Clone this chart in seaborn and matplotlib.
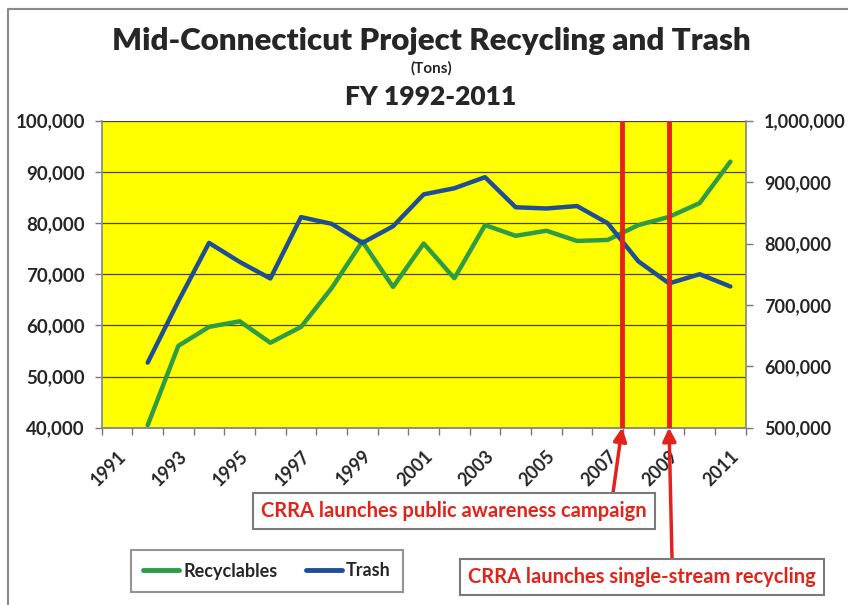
import numpy as np
import pandas as pd
import matplotlib.pyplot as plt
import seaborn as sns
from matplotlib.lines import Line2D
from matplotlib.ticker import FuncFormatter, MultipleLocator

# values (tons)
years = list(range(1992, 2012))
recyclables = [40500, 56000, 59700, 60800, 56600, 59700, 67300, 76400, 67500, 76000,
               69200, 79600, 77500, 78500, 76500, 76700, 79600, 81200, 83900, 92000]
trash = [606000, 706000, 801000, 770000, 743000, 843000, 832000, 801000, 828000, 880000,
         890000, 908000, 859000, 857000, 861000, 833000, 771000, 735000, 750000, 730000]

year_ticks = list(range(1991, 2012, 2))
event_years = [2007.47, 2009.0]
event_labels = ['CRRA launches public awareness campaign',
                'CRRA launches single-stream recycling']

df = pd.DataFrame({'Year': years, 'Recyclables': recyclables, 'Trash': trash})

GREEN = '#2e9b46'
BLUE = '#1f4e96'
RED = '#e3231a'
W, H = 848, 605

sns.set_theme(style='white')
plt.rcParams['font.family'] = ['Lato', 'DejaVu Sans']

fig = plt.figure(figsize=(W / 100, H / 100), dpi=100)
ax = fig.add_axes([101.7 / W, 1 - 427.7 / H, 644 / W, 307 / H])
ax.set_facecolor('#ffff00')

sns.lineplot(data=df, x='Year', y='Recyclables', ax=ax, color=GREEN, lw=3.2, zorder=3)
ax2 = ax.twinx()
sns.lineplot(data=df, x='Year', y='Trash', ax=ax2, color=BLUE, lw=3.2, zorder=3)

ax.set_xlim(1990.5, 2011.5)
ax.set_ylim(40000, 100000)
ax2.set_ylim(500000, 1000000)
ax.set_xlabel('')
ax.set_ylabel('')
ax2.set_ylabel('')

comma = FuncFormatter(lambda v, p: f'{int(v):,}')
ax.yaxis.set_major_locator(MultipleLocator(10000))
ax.yaxis.set_major_formatter(comma)
ax2.yaxis.set_major_locator(MultipleLocator(100000))
ax2.yaxis.set_major_formatter(comma)

ax.set_xticks(year_ticks)
ax.set_xticklabels([str(y) for y in year_ticks], rotation=45, ha='right',
                   rotation_mode='anchor', fontweight='bold', fontsize=13)
ax.set_xticks(np.arange(1990.5, 2012, 1), minor=True)
ax.tick_params(axis='x', which='major', length=0, pad=14)
ax.tick_params(axis='x', which='minor', length=5, width=1, color='#777777', direction='out', bottom=True)
ax.tick_params(axis='y', length=5, width=1, color='#777777', direction='out', left=True,
               labelsize=13.5, pad=7)
ax2.tick_params(axis='y', length=5, width=1, color='#777777', direction='out', right=True,
                labelsize=13, pad=8)
for lab in ax.get_yticklabels() + ax2.get_yticklabels():
    lab.set_fontweight('bold')

ax.yaxis.grid(True, color='#4a4220', lw=0.9)
ax.set_axisbelow(True)
for a in (ax, ax2):
    for s in a.spines.values():
        s.set_visible(False)
    a.spines['left'].set_visible(True)
    a.spines['bottom'].set_visible(True)
    a.spines['left'].set_color('#8a8a8a')
    a.spines['bottom'].set_color('#8a8a8a')
ax2.spines['right'].set_visible(True)
ax2.spines['right'].set_color('#8a8a8a')
ax2.spines['left'].set_visible(False)

# event markers
for ex in event_years:
    ax2.axvline(ex, color=RED, lw=3.5, zorder=5)

box_centers = [(454, 511), (642, 577)]
tails = [(613, 493), (672, 558)]
for ex, label, (cx, cy), (tx, ty) in zip(event_years, event_labels, box_centers, tails):
    fig.text(cx / W, 1 - cy / H, label, ha='center', va='center', color=RED,
             fontweight='bold', fontsize=14.5,
             bbox=dict(boxstyle='square,pad=0.4', fc='white', ec='#7a7a7a', lw=1.5))
    ax2.annotate('', xy=(ex, 0), xycoords=('data', 'axes fraction'),
                 xytext=(tx / W, 1 - ty / H), textcoords='figure fraction',
                 arrowprops=dict(arrowstyle='-|>', color=RED, lw=2.5,
                                 mutation_scale=20, shrinkA=0, shrinkB=0),
                 annotation_clip=False)

# titles
fig.text(431 / W, 1 - 41 / H, 'Mid-Connecticut Project Recycling and Trash',
         ha='center', va='center', fontsize=22.5, fontweight='heavy')
fig.text(431 / W, 1 - 68 / H, '(Tons)', ha='center', va='center', fontsize=11, fontweight='bold')
fig.text(431 / W, 1 - 97 / H, 'FY 1992-2011', ha='center', va='center', fontsize=19, fontweight='heavy')

# legend
handles = [Line2D([], [], color=GREEN, lw=3.5), Line2D([], [], color=BLUE, lw=3.5)]
leg = fig.legend(handles, ['Recyclables', 'Trash'], loc='center',
                 bbox_to_anchor=(267 / W, 1 - 571 / H), ncol=2, fancybox=False,
                 edgecolor='#7a7a7a', handlelength=2.0, handletextpad=0.2,
                 columnspacing=1.6, borderpad=0.7, prop={'weight': 'bold', 'size': 13})
leg.get_frame().set_linewidth(1.5)

# chart border (left and top)
fig.add_artist(Line2D([8 / W, 8 / W, 1], [0, 1 - 9 / H, 1 - 9 / H],
                      transform=fig.transFigure, color='#8a8a8a', lw=1.5))

fig.savefig('out.png', dpi=100)
